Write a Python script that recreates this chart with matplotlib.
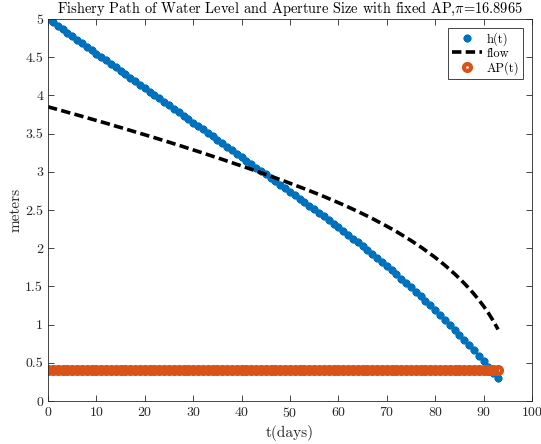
import numpy as np
import matplotlib
matplotlib.use("Agg")
import matplotlib.pyplot as plt
from matplotlib.ticker import FormatStrFormatter


# water level h(t) in meters, one value per day
h = [
    5.000, 4.955, 4.910, 4.864, 4.819, 4.774, 4.729, 4.684, 4.638, 4.593,
    4.548, 4.503, 4.458, 4.412, 4.367, 4.322, 4.277, 4.232, 4.186, 4.141,
    4.096, 4.051, 4.006, 3.960, 3.915, 3.870, 3.825, 3.780, 3.734, 3.689,
    3.644, 3.599, 3.554, 3.508, 3.463, 3.418, 3.373, 3.328, 3.282, 3.237,
    3.192, 3.147, 3.102, 3.056, 3.011, 2.966, 2.921, 2.876, 2.830, 2.785,
    2.739, 2.694, 2.648, 2.602, 2.556, 2.510, 2.463, 2.416, 2.368, 2.321,
    2.273, 2.225, 2.176, 2.126, 2.076, 2.026, 1.975, 1.924, 1.871, 1.819,
    1.765, 1.712, 1.657, 1.601, 1.545, 1.488, 1.430, 1.372, 1.312, 1.251,
    1.190, 1.128, 1.065, 1.000, 0.935, 0.869, 0.801, 0.733, 0.663, 0.592,
    0.520, 0.447, 0.372, 0.296,
]

# outflow through the aperture
flow = [
    3.851, 3.833, 3.816, 3.798, 3.780, 3.762, 3.745, 3.727, 3.709, 3.690,
    3.672, 3.654, 3.636, 3.617, 3.598, 3.580, 3.561, 3.542, 3.523, 3.504,
    3.485, 3.466, 3.447, 3.427, 3.407, 3.388, 3.368, 3.348, 3.328, 3.307,
    3.287, 3.267, 3.246, 3.225, 3.204, 3.184, 3.163, 3.141, 3.120, 3.098,
    3.077, 3.055, 3.033, 3.010, 2.988, 2.966, 2.943, 2.920, 2.897, 2.874,
    2.850, 2.826, 2.802, 2.778, 2.753, 2.728, 2.703, 2.677, 2.650, 2.623,
    2.596, 2.569, 2.540, 2.511, 2.481, 2.451, 2.420, 2.389, 2.355, 2.322,
    2.288, 2.253, 2.217, 2.179, 2.140, 2.101, 2.059, 2.017, 1.972, 1.926,
    1.879, 1.829, 1.777, 1.722, 1.665, 1.605, 1.541, 1.474, 1.402, 1.325,
    1.242, 1.151, 1.050, 0.937,
]

# fixed aperture size
ap_value = 0.41

days = np.arange(len(h))
ap = [ap_value] * len(days)

xticks = [0, 10, 20, 30, 40, 50, 60, 70, 80, 90, 100]
yticks = [0, 0.5, 1, 1.5, 2, 2.5, 3, 3.5, 4, 4.5, 5]

blue = (0.0, 0.447, 0.741)
orange = (0.85, 0.325, 0.098)
axis_grey = (0.15, 0.15, 0.15)


plt.rcParams['font.family'] = 'cmr10'
plt.rcParams['mathtext.fontset'] = 'cm'
plt.rcParams['axes.formatter.use_mathtext'] = True

fig = plt.figure(figsize=(5.41, 4.44), dpi=100)
ax = fig.add_axes([0.0887, 0.0968, 0.8946, 0.8604])

ax.plot(
    days,
    h,
    linestyle='none',
    marker=(8, 2, 0),
    markersize=5.5,
    markeredgewidth=1.8,
    color=blue,
    label='h(t)'
)

ax.plot(
    days,
    flow,
    color='black',
    linewidth=2.6,
    dashes=(2.6, 1.2),
    label='flow'
)

ax.plot(
    days,
    ap,
    linestyle='none',
    marker='o',
    markersize=5,
    markerfacecolor='none',
    markeredgewidth=3,
    color=orange,
    label='AP(t)'
)

ax.set_xlim(0, 100)
ax.set_ylim(0, 5)
ax.set_xticks(xticks)
ax.set_yticks(yticks)
ax.yaxis.set_major_formatter(FormatStrFormatter('%g'))

ax.tick_params(
    direction='in',
    top=True,
    right=True,
    length=4,
    width=0.6,
    color=axis_grey,
    labelcolor=axis_grey,
    labelsize=10
)
for spine in ax.spines.values():
    spine.set_color(axis_grey)
    spine.set_linewidth(0.6)

ax.set_title(
    r'Fishery Path of Water Level and Aperture Size with fixed AP,$\pi$=16.8965',
    fontsize=10.4,
    pad=4
)
ax.set_xlabel('t(days)', fontsize=11, color=axis_grey)
ax.set_ylabel('meters', fontsize=11, color=axis_grey, labelpad=2)

leg = ax.legend(
    loc='upper right',
    fontsize=9,
    fancybox=False,
    framealpha=1,
    edgecolor=axis_grey,
    borderaxespad=0.7,
    borderpad=0.35,
    handlelength=2.4,
    handletextpad=0.3,
    labelspacing=0.12
)
leg.get_frame().set_linewidth(0.6)

fig.savefig("out.png", dpi=100)
